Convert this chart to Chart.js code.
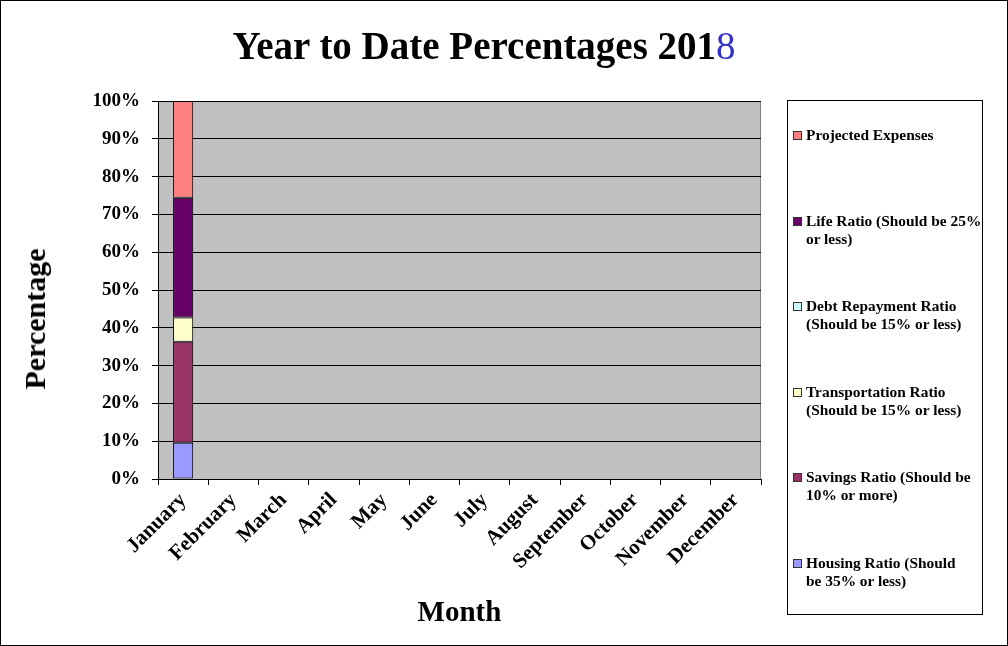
<!DOCTYPE html>
<html>
<head>
<meta charset="utf-8">
<script src="https://cdn.jsdelivr.net/npm/chart.js@4/dist/chart.umd.min.js"></script>
<style>
  html, body { margin: 0; padding: 0; background: #fff; }
  #wrap { position: relative; width: 1008px; height: 646px; box-sizing: border-box; border: 1px solid #000; overflow: hidden; }
  #chart { position: absolute; left: 0; top: 0; }
  #title { position: absolute; left: 0; width: 966px; top: 22px; text-align: center;
           font: bold 39px "Liberation Serif", serif; color: #000; }
  #title span { color: #3333cc; font-weight: normal; }
  #ytitle { position: absolute; left: 34px; top: 318px; transform: translate(-50%, -50%) rotate(-90deg);
            font: bold 30px "Liberation Serif", serif; color: #000; white-space: nowrap; }
  #legend { position: absolute; left: 786px; top: 99px; width: 196px; height: 515px;
            border: 1px solid #000; box-sizing: border-box; }
  .item { position: absolute; left: 5px; font: bold 15.4px "Liberation Serif", serif; line-height: 18px; color: #000; }
  .item i { position: absolute; left: 0; top: 5px; width: 7px; height: 7px; border: 1px solid #333; }
  .item div { margin-left: 13px; white-space: nowrap; }
</style>
</head>
<body>
<div id="wrap">
  <canvas id="chart" width="1008" height="646"></canvas>
  <div id="title">Year to Date Percentages 201<span>8</span></div>
  <div id="ytitle">Percentage</div>
  <div id="legend"></div>
</div>
<script>
var months = ['January', 'February', 'March', 'April', 'May', 'June', 'July',
              'August', 'September', 'October', 'November', 'December'];
var yTicks = ['0%', '10%', '20%', '30%', '40%', '50%', '60%', '70%', '80%', '90%', '100%'];

// only January has any data so far
var housing        = [9.6, null, null, null, null, null, null, null, null, null, null, null];
var savings        = [26.7, null, null, null, null, null, null, null, null, null, null, null];
var transportation = [6.4, null, null, null, null, null, null, null, null, null, null, null];
var debt           = [0, null, null, null, null, null, null, null, null, null, null, null];
var life           = [31.7, null, null, null, null, null, null, null, null, null, null, null];
var projected      = [25.6, null, null, null, null, null, null, null, null, null, null, null];

var seriesNames = [
  ['Housing Ratio (Should', 'be 35% or less)'],
  ['Savings Ratio (Should be', '10% or more)'],
  ['Transportation Ratio', '(Should be 15% or less)'],
  ['Debt Repayment Ratio', '(Should be 15% or less)'],
  ['Life Ratio (Should be 25%', 'or less)'],
  ['Projected Expenses']
];
var seriesColors = ['#9999FF', '#993366', '#FFFFCC', '#CCFFFF', '#660066', '#FF8080'];
var seriesValues = [housing, savings, transportation, debt, life, projected];

var datasets = seriesValues.map(function (vals, i) {
  return {
    label: seriesNames[i].join(' '),
    data: vals,
    backgroundColor: seriesColors[i],
    borderColor: '#000',
    borderWidth: 1,
    borderSkipped: false,
    barPercentage: 0.4,
    categoryPercentage: 1.0
  };
});

// grey plot area with a thin grey frame on top and right
var plotBg = {
  id: 'plotBg',
  beforeDraw: function (chart) {
    var a = chart.chartArea, c = chart.ctx;
    c.save();
    c.fillStyle = '#C0C0C0';
    c.fillRect(a.left, a.top, a.right - a.left, a.bottom - a.top);
    c.strokeStyle = '#808080';
    c.lineWidth = 1;
    c.beginPath();
    c.moveTo(a.left, a.top + 0.5);
    c.lineTo(a.right - 0.5, a.top + 0.5);
    c.lineTo(a.right - 0.5, a.bottom);
    c.stroke();
    c.restore();
  }
};

var ctx = document.getElementById('chart').getContext('2d');
var myChart = new Chart(ctx, {
  type: 'bar',
  data: { labels: months, datasets: datasets },
  plugins: [plotBg],
  options: {
    responsive: false,
    animation: false,
    layout: { padding: { top: 100, right: 248, left: 0, bottom: 0 } },
    plugins: {
      legend: { display: false },
      title: { display: false },
      tooltip: { enabled: false }
    },
    scales: {
      x: {
        stacked: true,
        afterFit: function (s) { s.height = 168; },
        grid: { offset: true, drawOnChartArea: false, color: '#000', tickLength: 6 },
        border: { color: '#000', width: 1 },
        ticks: {
          minRotation: 45, maxRotation: 45, color: '#000', padding: 3,
          font: { family: 'Liberation Serif', weight: 'bold', size: 21 }
        },
        title: {
          display: true, text: 'Month', color: '#000',
          font: { family: 'Liberation Serif', weight: 'bold', size: 29 },
          padding: { top: 0, bottom: 16 }
        }
      },
      y: {
        stacked: true,
        min: 0, max: 100,
        afterFit: function (s) { s.width = 157; },
        grid: { color: '#000', tickLength: 6 },
        border: { color: '#000', width: 1 },
        ticks: {
          stepSize: 10, color: '#000', padding: 12,
          font: { family: 'Liberation Serif', weight: 'bold', size: 19 },
          callback: function (v, i) { return yTicks[i]; }
        }
      }
    }
  }
});

// legend box, listed top to bottom in reverse stack order
var legend = document.getElementById('legend');
var firstLine = [34, 119.6, 205.2, 290.8, 376.4, 462];
myChart.data.datasets.slice().reverse().forEach(function (ds, k) {
  var idx = datasets.length - 1 - k;
  var item = document.createElement('div');
  item.className = 'item';
  item.style.top = (firstLine[k] - 9) + 'px';
  var sw = document.createElement('i');
  sw.style.background = ds.backgroundColor;
  item.appendChild(sw);
  var txt = document.createElement('div');
  txt.innerHTML = seriesNames[idx].join('<br>');
  item.appendChild(txt);
  legend.appendChild(item);
});
</script>
</body>
</html>
